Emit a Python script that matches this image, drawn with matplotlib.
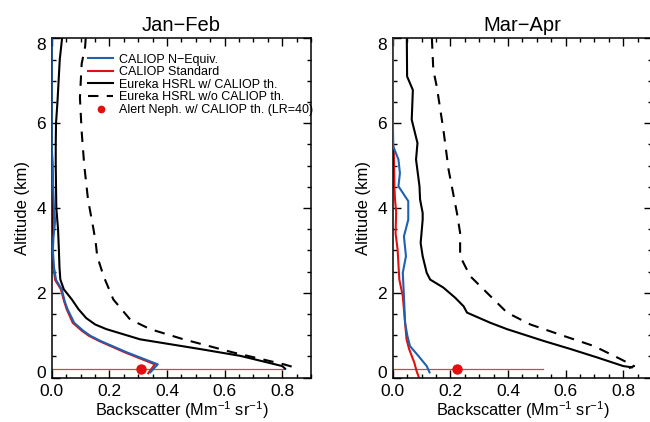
import matplotlib
matplotlib.use("Agg")
import matplotlib.pyplot as plt
from matplotlib.ticker import MultipleLocator

plt.rcParams['font.family'] = ['Liberation Sans', 'DejaVu Sans']
plt.rcParams['mathtext.fontset'] = 'custom'
plt.rcParams['mathtext.rm'] = 'Liberation Sans'
plt.rcParams['mathtext.it'] = 'Liberation Sans:italic'

titles = ["Jan\u2212Feb", "Mar\u2212Apr"]
legend_labels = ["CALIOP N\u2212Equiv.", "CALIOP Standard", "Eureka HSRL w/ CALIOP th.",
                 "Eureka HSRL w/o CALIOP th.", "Alert Neph. w/ CALIOP th. (LR=40)"]

# ---- Jan-Feb ----
jf_blue_alt = [8.0, 5.5, 5.0, 4.5, 4.0, 3.7, 3.3, 3.0, 2.6, 2.3, 2.08, 1.8, 1.61, 1.29, 1.1, 0.98, 0.86, 0.59, 0.31, 0.12]
jf_blue_x = [0.0, 0.0, 0.003, 0.005, 0.008, 0.012, 0.006, 0.004, 0.008, 0.015, 0.035, 0.045, 0.055, 0.078, 0.11, 0.135, 0.17, 0.262, 0.368, 0.342]
jf_red_alt = [5.4, 5.0, 4.5, 4.0, 3.6, 3.3, 3.0, 2.6, 2.3, 2.08, 1.8, 1.61, 1.29, 1.1, 0.98, 0.86, 0.59, 0.31, 0.1]
jf_red_x = [0.0, 0.003, 0.004, 0.005, 0.004, 0.002, 0.002, 0.006, 0.012, 0.032, 0.043, 0.052, 0.073, 0.105, 0.13, 0.165, 0.255, 0.358, 0.335]
jf_hsrl_alt = [8.0, 7.5, 7.0, 6.5, 6.0, 5.5, 5.0, 4.5, 4.0, 3.5, 3.0, 2.6, 2.31, 2.08, 1.84, 1.61, 1.4, 1.25, 1.14, 0.9, 0.67, 0.51, 0.27, 0.21]
jf_hsrl_x = [0.036, 0.028, 0.024, 0.02, 0.015, 0.014, 0.014, 0.015, 0.016, 0.022, 0.025, 0.027, 0.03, 0.042, 0.07, 0.093, 0.12, 0.151, 0.19, 0.307, 0.516, 0.655, 0.8, 0.81]
jf_hsrl_noth_alt = [8.0, 7.8, 7.4, 6.6, 5.8, 5.0, 4.2, 3.5, 3.17, 2.86, 2.39, 1.84, 1.37, 1.14, 0.9, 0.59, 0.31, 0.23]
jf_hsrl_noth_x = [0.118, 0.116, 0.104, 0.098, 0.104, 0.113, 0.126, 0.145, 0.153, 0.158, 0.18, 0.214, 0.272, 0.342, 0.458, 0.63, 0.806, 0.847]
jf_neph_alt = 0.21
jf_neph_x = 0.31
jf_neph_line_x = [0.0, 0.81]

# ---- Mar-Apr ----
ma_blue_alt = [8.0, 6.3, 5.45, 5.14, 4.82, 4.51, 4.16, 3.72, 3.33, 2.86, 2.47, 1.92, 1.29, 0.98, 0.74, 0.51, 0.27, 0.12]
ma_blue_x = [0.0, 0.0, 0.002, 0.02, 0.025, 0.02, 0.054, 0.054, 0.039, 0.046, 0.035, 0.039, 0.043, 0.051, 0.06, 0.089, 0.118, 0.128]
ma_red_alt = [6.2, 5.6, 5.3, 4.5, 4.2, 3.9, 3.4, 3.02, 2.31, 1.92, 1.29, 0.9, 0.67, 0.35, 0.15, 0.02]
ma_red_x = [0.0, 0.0, 0.004, 0.006, 0.008, 0.012, 0.01, 0.017, 0.023, 0.035, 0.043, 0.048, 0.057, 0.075, 0.083, 0.09]
ma_hsrl_alt = [8.0, 7.1, 6.78, 6.08, 5.53, 5.14, 4.51, 4.2, 3.88, 3.72, 3.17, 2.86, 2.47, 2.31, 2.12, 1.88, 1.68, 1.53, 1.29, 1.14, 0.86, 0.67, 0.47, 0.27, 0.24]
ma_hsrl_x = [0.049, 0.05, 0.07, 0.066, 0.086, 0.081, 0.093, 0.095, 0.104, 0.104, 0.097, 0.104, 0.118, 0.13, 0.176, 0.217, 0.246, 0.258, 0.339, 0.397, 0.525, 0.618, 0.711, 0.8, 0.83]
ma_hsrl_noth_alt = [8.0, 7.25, 6.86, 5.84, 4.9, 3.88, 3.41, 2.86, 2.39, 2.0, 1.53, 1.25, 0.98, 0.74, 0.43, 0.27, 0.22]
ma_hsrl_noth_x = [0.136, 0.141, 0.153, 0.176, 0.194, 0.223, 0.234, 0.234, 0.269, 0.327, 0.397, 0.478, 0.594, 0.699, 0.792, 0.838, 0.82]
ma_neph_alt = 0.21
ma_neph_x = 0.223
ma_neph_line_x = [0.0, 0.52]

x_ticks = [0.0, 0.2, 0.4, 0.6, 0.8]
x_ticklabels = ['0.0', '0.2', '0.4', '0.6', '0.8']
y_ticks = [0, 2, 4, 6, 8]

BLUE = '#2060b0'
RED = '#e01010'

fig = plt.figure(figsize=(6.5, 4.22), dpi=100)
ax1 = fig.add_axes([51.7/650, 44.5/422, 259.3/650, 339.2/422])
ax2 = fig.add_axes([392.7/650, 44.5/422, 259.3/650, 339.2/422])

panels = [
    (ax1, jf_blue_x, jf_blue_alt, jf_red_x, jf_red_alt, jf_hsrl_x, jf_hsrl_alt,
     jf_hsrl_noth_x, jf_hsrl_noth_alt, jf_neph_x, jf_neph_alt, jf_neph_line_x),
    (ax2, ma_blue_x, ma_blue_alt, ma_red_x, ma_red_alt, ma_hsrl_x, ma_hsrl_alt,
     ma_hsrl_noth_x, ma_hsrl_noth_alt, ma_neph_x, ma_neph_alt, ma_neph_line_x),
]

for i, (ax, bx, ba, rx, ra, hx, ha, nx, na, px, pa, plx) in enumerate(panels):
    ax.plot(plx, [pa, pa], color='#e04040', lw=0.9, zorder=1)
    l1, = ax.plot(bx, ba, color=BLUE, lw=1.5, zorder=3)
    l2, = ax.plot(rx, ra, color=RED, lw=1.5, zorder=2)
    l3, = ax.plot(hx, ha, color='black', lw=1.5, zorder=3)
    l4, = ax.plot(nx, na, color='black', lw=1.5, ls=(0, (5, 4)), zorder=3)
    l5, = ax.plot([px], [pa], 'o', color=RED, ms=6.5, ls='none', zorder=4)
    ax.set_xlim(0, 0.9)
    ax.set_ylim(0, 8)
    ax.xaxis.set_minor_locator(MultipleLocator(0.05))
    ax.yaxis.set_minor_locator(MultipleLocator(0.5))
    ax.set_xticks(x_ticks)
    ax.set_xticklabels(x_ticklabels)
    ax.set_yticks(y_ticks)
    ax.set_yticklabels([str(v) for v in y_ticks])
    ax.tick_params(which='both', direction='in', top=True, right=True, width=1)
    ax.tick_params(axis='x', which='major', length=6, pad=5, labelsize=12.5)
    ax.tick_params(axis='y', which='major', length=6, pad=4, labelsize=12.5)
    ax.tick_params(which='minor', length=3)
    ylabs = ax.get_yticklabels()
    ylabs[0].set_va('baseline')
    ylabs[-1].set_va('top')
    for s in ax.spines.values():
        s.set_linewidth(1.1)
    ax.set_title(titles[i], fontsize=14.5, pad=5)
    ax.set_xlabel(r'Backscatter (Mm$^{-1}$ sr$^{-1}$)', fontsize=11.7, labelpad=0)
    ax.set_ylabel('Altitude (km)', fontsize=12, labelpad=5)
    if i == 0:
        ax.legend([l1, l2, l3, l4, l5], legend_labels, loc='upper left',
                  bbox_to_anchor=(0.14, 0.955), frameon=False, fontsize=9.0,
                  handlelength=2.0, handletextpad=0.47, labelspacing=0.05,
                  borderaxespad=0.0, borderpad=0.0, markerscale=0.7)

fig.savefig('out.png', dpi=100)
